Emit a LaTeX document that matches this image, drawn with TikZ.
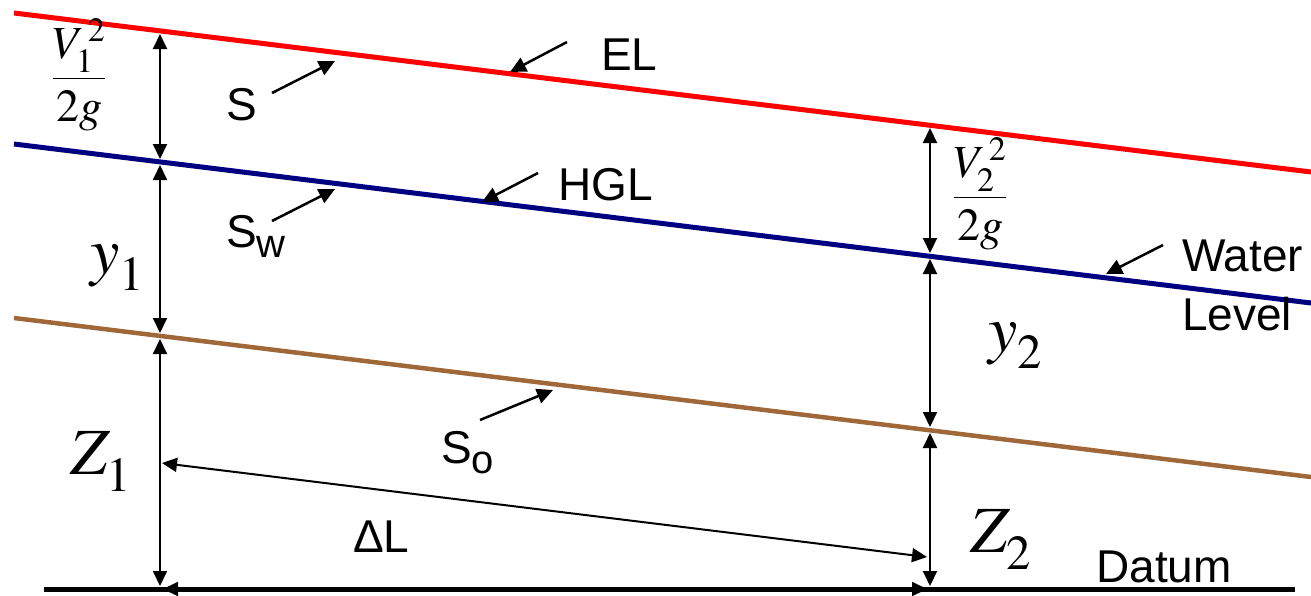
\documentclass[tikz,border=0pt]{standalone}
\usepackage{mathptmx}
\usepackage[no-math]{fontspec}
\setmainfont{Liberation Sans}
\usetikzlibrary{arrows.meta}

\definecolor{elred}{RGB}{255,0,0}
\definecolor{hglblue}{RGB}{0,0,128}
\definecolor{bedbrown}{RGB}{160,104,56}

\tikzset{
  dim/.style={line width=2pt,shorten <=3pt,shorten >=3pt,
    {Triangle[length=15pt,width=14pt]}-{Triangle[length=15pt,width=14pt]}},
  ptr/.style={line width=2.5pt,-{Triangle[length=16pt,width=15pt]}},
  txt/.style={inner sep=0pt,anchor=base west,font=\fontsize{46}{59}\selectfont},
  sym/.style={inner sep=0pt,anchor=base west,font=\fontsize{66}{70}\selectfont},
  frc/.style={inner sep=0pt,anchor=base,font=\fontsize{46}{50}\selectfont}
}
\newcommand{\lowsub}[1]{_{\lower0.12em\hbox{$\scriptstyle #1$}}}
\newcommand{\tsub}[1]{\raisebox{-0.22em}{\fontsize{40}{40}\selectfont #1}}

\begin{document}
\begin{tikzpicture}[x=1pt,y=-1pt]
\useasboundingbox (0,0) rectangle (1311,595);

% the three sloping lines and the datum
\draw[line width=5pt,elred] (14,13) -- (1311,172);
\draw[line width=5pt,hglblue] (14,144) -- (1311,303);
\draw[line width=4.5pt,bedbrown] (14,318) -- (1311,477);
\draw[line width=5pt] (44,589) -- (1295,589);

% section 1 and section 2
\coordinate (r1) at (160,31);  \coordinate (r2) at (930,125);
\coordinate (w1) at (160,162); \coordinate (w2) at (930,256);
\coordinate (b1) at (160,336); \coordinate (b2) at (930,430);
\coordinate (d1) at (160,589); \coordinate (d2) at (930,589);
\foreach \a/\b in {r1/w1,w1/b1,b1/d1,r2/w2,w2/b2,b2/d2,d1/d2}{
  \draw[dim] (\a) -- (\b);
}
\coordinate (dla) at (162,463);
\coordinate (dlb) at (927,557);
\draw[line width=2pt,{Triangle[length=15pt,width=14pt]}-{Triangle[length=15pt,width=14pt]}] (dla) -- (dlb);

% pointers to the lines
\coordinate (sA) at (272,93);    \coordinate (sB) at (335,61);
\coordinate (swA) at (272,221);  \coordinate (swB) at (335,189);
\coordinate (elA) at (567,42);   \coordinate (elB) at (510,72);
\coordinate (hglA) at (538,173); \coordinate (hglB) at (482,202);
\coordinate (wlA) at (1163,245); \coordinate (wlB) at (1106,274);
\coordinate (soA) at (480,420);  \coordinate (soB) at (553,390);
\foreach \a/\b in {sA/sB,swA/swB,elA/elB,hglA/hglB,wlA/wlB,soA/soB}{
  \draw[ptr] (\a) -- (\b);
}

% labels
\node[frc] (v1) at (79,90) {$\displaystyle\frac{V_1^{\,2}}{2g}$};
\node[frc] (v2) at (980,209) {$\displaystyle\frac{V_2^{\,2}}{2g}$};
\node[sym] (y1) at (90,273) {$y\lowsub{1}$};
\node[sym] (y2) at (988,351) {$y\lowsub{2}$};
\node[sym] (z1) at (70,474) {$Z\lowsub{1}$};
\node[sym] (z2) at (970,552) {$Z\lowsub{2}$};
\node[txt] (s) at (226,120) {S};
\node[txt] (sw) at (226,247) {S\tsub{w}};
\node[txt] (so) at (441,463) {S\tsub{o}};
\node[txt] (el) at (601,70) {EL};
\node[txt] (hgl) at (558,200) {HGL};
\node[txt,anchor=west,align=left] (wl) at (1182,285) {Water\\Level};
\node[txt] (dl) at (353,552) {ΔL};
\node[txt] (datum) at (1096,582) {Datum};
\end{tikzpicture}
\end{document}
